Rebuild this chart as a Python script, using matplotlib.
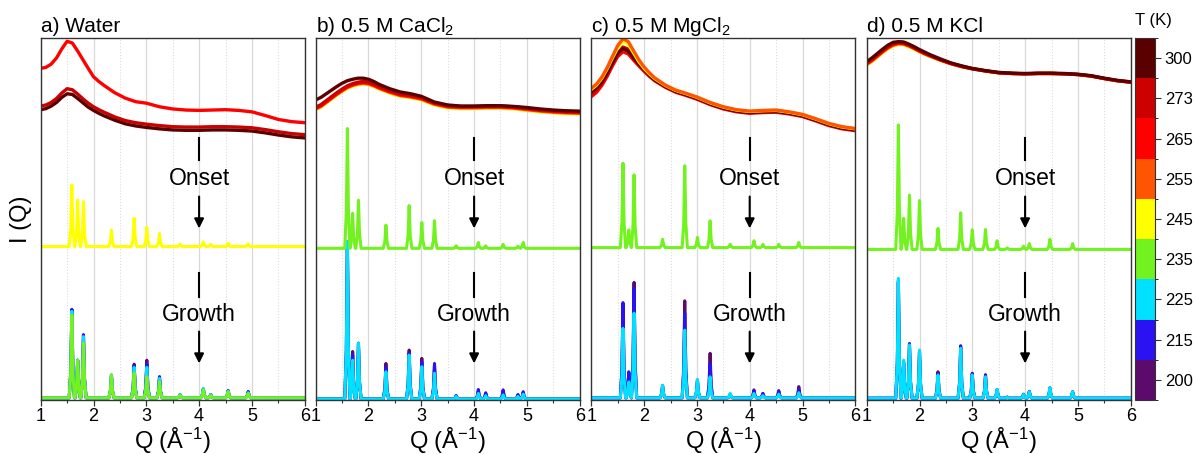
import numpy as np
import matplotlib
matplotlib.use("Agg")
from matplotlib import pyplot as plt
from matplotlib.colors import ListedColormap, BoundaryNorm
import matplotlib.colorbar as mcolorbar

plt.rcParams['font.family'] = ['Liberation Sans', 'DejaVu Sans']
plt.rcParams['mathtext.fontset'] = 'custom'
plt.rcParams['mathtext.rm'] = 'Liberation Sans'
plt.rcParams['mathtext.it'] = 'Liberation Sans:italic'

# temperature scale (colorbar)
T_LEVELS = [200, 215, 225, 235, 245, 255, 265, 273, 300]
T_COLORS = ['#5c0b6c', '#2a12f2', '#00e1ff', '#72f21e', '#ffff00',
            '#ff5500', '#ff0000', '#cc0000', '#5a0000']

TITLES = ['a) Water', 'b) 0.5 M CaCl$_2$', 'c) 0.5 M MgCl$_2$', 'd) 0.5 M KCl']

# liquid curves, Q grid and intensities (axis units 0-100)
Q_LIQ = [1.0, 1.1, 1.2, 1.3, 1.4, 1.5, 1.6, 1.7, 1.8, 1.9, 2.0, 2.1, 2.2, 2.4, 2.6, 2.8,
         3.0, 3.25, 3.5, 3.75, 4.0, 4.25, 4.5, 4.75, 5.0, 5.25, 5.5, 5.75, 6.0]

A_LIQ_265 = [91.6, 91.9, 92.8, 94.5, 97.0, 99.1, 98.6, 96.4, 94.0, 91.6, 89.3, 88.0, 86.9, 84.9, 83.4, 82.4,
             82.0, 81.0, 80.4, 80.1, 80.0, 80.1, 80.2, 80.0, 79.6, 78.6, 77.5, 76.9, 76.6]
A_LIQ_273 = [81.2, 81.5, 82.2, 83.3, 84.8, 86.0, 85.7, 84.5, 83.2, 82.0, 81.0, 80.2, 79.5, 78.2, 77.2, 76.6,
             76.2, 75.8, 75.5, 75.4, 75.4, 75.5, 75.5, 75.4, 75.2, 74.7, 74.1, 73.6, 73.3]
A_LIQ_300 = [80.2, 80.5, 81.2, 82.2, 83.6, 84.6, 84.4, 83.3, 82.1, 80.9, 80.0, 79.2, 78.5, 77.3, 76.3, 75.7,
             75.3, 74.9, 74.6, 74.5, 74.5, 74.6, 74.6, 74.5, 74.3, 73.8, 73.2, 72.7, 72.4]

B_LIQ_245 = [80.2, 80.9, 82.0, 83.1, 84.2, 85.2, 86.1, 86.7, 87.1, 87.3, 87.1, 86.6, 85.9, 84.8, 83.9, 83.5,
             82.9, 81.5, 80.7, 80.5, 80.5, 80.6, 80.6, 80.4, 80.0, 79.6, 79.3, 79.1, 79.0]
B_LIQ_255 = [80.4, 81.1, 82.2, 83.3, 84.4, 85.4, 86.3, 86.9, 87.3, 87.5, 87.3, 86.8, 86.1, 85.0, 84.1, 83.7,
             83.1, 81.7, 80.9, 80.7, 80.7, 80.8, 80.8, 80.6, 80.2, 79.8, 79.5, 79.3, 79.2]
B_LIQ_265 = [80.6, 81.3, 82.4, 83.5, 84.6, 85.6, 86.5, 87.1, 87.5, 87.7, 87.5, 87.0, 86.3, 85.2, 84.3, 83.9,
             83.3, 81.9, 81.1, 80.9, 80.9, 81.0, 81.0, 80.8, 80.4, 80.0, 79.7, 79.5, 79.4]
B_LIQ_273 = [80.9, 81.6, 82.7, 83.8, 84.9, 85.9, 86.8, 87.4, 87.8, 88.0, 87.8, 87.3, 86.6, 85.5, 84.6, 84.2,
             83.6, 82.1, 81.3, 81.1, 81.1, 81.2, 81.2, 81.0, 80.6, 80.2, 79.9, 79.7, 79.6]
B_LIQ_300 = [82.9, 83.6, 84.6, 85.6, 86.6, 87.5, 88.2, 88.6, 88.9, 88.9, 88.6, 88.0, 87.2, 86.0, 85.1, 84.6,
             83.9, 82.3, 81.5, 81.2, 81.2, 81.3, 81.3, 81.1, 80.8, 80.4, 80.1, 79.9, 79.8]

C_LIQ_245 = [85.8, 87.0, 88.9, 91.5, 94.5, 97.3, 99.0, 98.3, 95.9, 93.5, 91.6, 90.1, 88.8, 86.9, 85.5, 84.6,
             83.6, 82.1, 80.9, 80.1, 79.7, 79.9, 80.0, 79.5, 78.8, 77.6, 76.3, 75.4, 74.9]
C_LIQ_255 = [86.1, 87.3, 89.2, 91.8, 94.9, 97.9, 99.8, 99.0, 96.5, 94.0, 92.0, 90.4, 89.0, 87.0, 85.6, 84.7,
             83.7, 82.2, 81.0, 80.2, 79.8, 80.0, 80.1, 79.6, 78.9, 77.7, 76.4, 75.5, 75.0]
C_LIQ_265 = [83.8, 85.0, 86.9, 89.4, 92.3, 94.9, 96.2, 95.6, 93.9, 92.3, 90.8, 89.4, 88.2, 86.4, 85.0, 84.1,
             83.1, 81.6, 80.4, 79.6, 79.2, 79.4, 79.5, 79.0, 78.3, 77.1, 75.8, 74.9, 74.4]
C_LIQ_273 = [84.5, 85.7, 87.5, 90.0, 92.9, 95.7, 97.5, 96.9, 95.0, 93.2, 91.6, 90.1, 88.7, 86.8, 85.4, 84.5,
             83.5, 82.0, 80.8, 80.0, 79.6, 79.8, 79.9, 79.4, 78.7, 77.5, 76.2, 75.3, 74.8]
C_LIQ_300 = [85.2, 86.3, 88.0, 90.4, 93.2, 95.8, 97.1, 96.4, 94.5, 92.8, 91.2, 89.7, 88.4, 86.6, 85.2, 84.3,
             83.3, 81.8, 80.6, 79.8, 79.4, 79.6, 79.7, 79.2, 78.5, 77.3, 76.0, 75.1, 74.6]

D_LIQ_245 = [92.5, 93.5, 94.7, 95.9, 97.0, 97.8, 98.2, 98.1, 97.6, 96.9, 96.2, 95.5, 94.9, 93.8, 92.9, 92.1,
             91.5, 90.9, 90.4, 90.2, 90.1, 90.2, 90.2, 90.1, 89.9, 89.5, 88.8, 88.2, 87.8]
D_LIQ_255 = [92.7, 93.7, 94.9, 96.1, 97.2, 98.0, 98.4, 98.3, 97.8, 97.1, 96.3, 95.6, 95.0, 93.9, 92.9, 92.1,
             91.5, 90.9, 90.4, 90.2, 90.1, 90.2, 90.2, 90.1, 89.9, 89.5, 88.8, 88.2, 87.8]
D_LIQ_265 = [92.9, 93.9, 95.1, 96.3, 97.4, 98.2, 98.6, 98.5, 97.9, 97.2, 96.4, 95.7, 95.1, 93.9, 92.9, 92.1,
             91.5, 90.9, 90.4, 90.2, 90.1, 90.2, 90.2, 90.1, 89.9, 89.5, 88.8, 88.2, 87.8]
D_LIQ_273 = [93.2, 94.2, 95.4, 96.6, 97.7, 98.5, 98.8, 98.7, 98.1, 97.4, 96.6, 95.9, 95.2, 94.0, 93.0, 92.2,
             91.5, 90.9, 90.4, 90.2, 90.1, 90.2, 90.2, 90.1, 89.9, 89.5, 88.8, 88.2, 87.8]
D_LIQ_300 = [93.5, 94.5, 95.7, 96.9, 98.0, 98.8, 99.0, 98.9, 98.3, 97.6, 96.8, 96.1, 95.4, 94.2, 93.1, 92.3,
             91.6, 91.0, 90.5, 90.3, 90.2, 90.3, 90.3, 90.2, 90.0, 89.6, 88.9, 88.3, 87.9]

# Bragg peaks: positions, baselines, peak tops
A_PEAK_Q = [1.59, 1.70, 1.81, 2.34, 2.77, 3.01, 3.25, 3.64, 4.08, 4.22, 4.55, 4.93]
A_ONSET_BASE = 42.4
A_ONSET_245 = [59.4, 55.2, 54.8, 47.0, 50.2, 47.7, 46.0, 43.0, 43.7, 43.0, 43.3, 43.1]
A_GROWTH_BASE = 0.6
A_GROWTH_200 = [25.0, 11.0, 18.0, 6.5, 9.9, 11.0, 6.4, 1.4, 3.0, 1.5, 2.6, 2.3]
A_GROWTH_215 = [25.0, 11.0, 18.0, 6.9, 9.5, 10.0, 6.4, 1.5, 3.0, 1.5, 2.6, 2.3]
A_GROWTH_225 = [24.5, 11.0, 17.5, 6.9, 9.0, 9.0, 6.0, 1.5, 3.2, 1.5, 2.5, 2.0]
A_GROWTH_235 = [23.5, 11.0, 15.7, 6.9, 7.4, 6.4, 5.0, 1.3, 2.8, 1.3, 2.3, 1.8]

B_PEAK_Q = [1.60, 1.70, 1.81, 2.33, 2.77, 3.01, 3.25, 3.66, 4.08, 4.22, 4.55, 4.83, 4.93]
B_ONSET_BASE = 41.9
B_ONSET_235 = [75.0, 51.6, 55.2, 48.3, 53.7, 49.0, 49.5, 42.6, 43.5, 42.6, 43.0, 42.5, 43.5]
B_GROWTH_BASE = 0.3
B_GROWTH_200 = [43.5, 13.4, 15.5, 10.1, 13.8, 11.5, 9.5, 1.2, 2.5, 1.8, 2.5, 1.4, 2.0]
B_GROWTH_215 = [43.7, 12.5, 15.7, 9.0, 13.0, 10.5, 10.1, 1.2, 2.9, 2.0, 2.8, 1.5, 2.3]
B_GROWTH_225 = [43.7, 11.0, 15.7, 7.8, 12.4, 9.2, 7.4, 1.0, 1.8, 1.2, 1.4, 1.0, 1.6]

C_PEAK_Q = [1.60, 1.71, 1.81, 2.35, 2.77, 3.01, 3.25, 3.63, 4.08, 4.25, 4.55, 4.93]
C_ONSET_BASE = 42.1
C_ONSET_235 = [65.4, 47.0, 62.2, 44.4, 64.7, 44.9, 49.5, 43.0, 44.0, 43.0, 43.0, 43.5]
C_GROWTH_BASE = 0.6
C_GROWTH_200 = [26.0, 7.5, 32.5, 3.8, 27.4, 5.3, 12.9, 1.5, 2.8, 1.8, 2.6, 3.7]
C_GROWTH_215 = [26.9, 7.8, 30.8, 4.0, 24.0, 5.5, 10.0, 1.6, 2.5, 1.8, 2.4, 3.0]
C_GROWTH_225 = [19.8, 5.0, 24.0, 4.1, 19.3, 5.7, 6.4, 1.8, 1.8, 1.2, 1.6, 2.0]

D_PEAK_Q = [1.60, 1.70, 1.81, 2.00, 2.35, 2.78, 3.00, 3.25, 3.47, 3.66, 3.97, 4.08, 4.47, 4.90]
D_ONSET_BASE = 41.6
D_ONSET_235 = [76.0, 50.2, 56.6, 55.1, 47.4, 51.7, 47.0, 47.1, 44.0, 42.0, 42.5, 43.2, 44.4, 43.2]
D_GROWTH_BASE = 0.5
D_GROWTH_200 = [32.5, 10.0, 15.5, 13.2, 7.8, 14.5, 7.4, 7.0, 2.8, 0.8, 1.5, 2.3, 3.2, 2.2]
D_GROWTH_215 = [33.0, 10.5, 15.6, 13.5, 7.2, 15.0, 7.2, 6.8, 2.9, 0.8, 1.6, 2.4, 3.4, 2.3]
D_GROWTH_225 = [33.6, 11.0, 15.2, 13.8, 6.9, 14.3, 6.9, 6.4, 2.9, 0.8, 1.5, 2.3, 3.4, 2.3]

panels = [
    dict(liq=[(265, A_LIQ_265), (273, A_LIQ_273), (300, A_LIQ_300)],
         peaks=A_PEAK_Q,
         cryst=[(A_GROWTH_BASE, 200, A_GROWTH_200), (A_GROWTH_BASE, 215, A_GROWTH_215),
                (A_GROWTH_BASE, 225, A_GROWTH_225), (A_GROWTH_BASE, 235, A_GROWTH_235),
                (A_ONSET_BASE, 245, A_ONSET_245)]),
    dict(liq=[(245, B_LIQ_245), (255, B_LIQ_255), (265, B_LIQ_265), (273, B_LIQ_273), (300, B_LIQ_300)],
         peaks=B_PEAK_Q,
         cryst=[(B_GROWTH_BASE, 200, B_GROWTH_200), (B_GROWTH_BASE, 215, B_GROWTH_215),
                (B_GROWTH_BASE, 225, B_GROWTH_225), (B_ONSET_BASE, 235, B_ONSET_235)]),
    dict(liq=[(265, C_LIQ_265), (273, C_LIQ_273), (300, C_LIQ_300), (245, C_LIQ_245), (255, C_LIQ_255)],
         peaks=C_PEAK_Q,
         cryst=[(C_GROWTH_BASE, 200, C_GROWTH_200), (C_GROWTH_BASE, 215, C_GROWTH_215),
                (C_GROWTH_BASE, 225, C_GROWTH_225), (C_ONSET_BASE, 235, C_ONSET_235)]),
    dict(liq=[(245, D_LIQ_245), (255, D_LIQ_255), (265, D_LIQ_265), (273, D_LIQ_273), (300, D_LIQ_300)],
         peaks=D_PEAK_Q,
         cryst=[(D_GROWTH_BASE, 200, D_GROWTH_200), (D_GROWTH_BASE, 215, D_GROWTH_215),
                (D_GROWTH_BASE, 225, D_GROWTH_225), (D_ONSET_BASE, 235, D_ONSET_235)]),
]

color_of = dict(zip(T_LEVELS, T_COLORS))


def peak_trace(qs, base, tops):
    # each peak drawn as a narrow spike with a slightly wider foot
    x, y = [1.0], [base]
    for q, h in zip(qs, tops):
        x += [q - 0.05, q - 0.02, q, q + 0.02, q + 0.05]
        y += [base, base + 0.3 * (h - base), h, base + 0.3 * (h - base), base]
    x.append(6.0)
    y.append(base)
    return x, y


W, H = 1195, 454
fig = plt.figure(figsize=(W / 100, H / 100), dpi=100)
lefts = [40.7, 315.7, 591.3, 866.7]
aw = 264
top, bottom = 38, 400

for i, p in enumerate(panels):
    ax = fig.add_axes([lefts[i] / W, (H - bottom) / H, aw / W, (bottom - top) / H])
    ax.set_xlim(1, 6)
    ax.set_ylim(0, 100)
    ax.set_xticks([1, 2, 3, 4, 5, 6])
    ax.set_xticks([1.5, 2.5, 3.5, 4.5, 5.5], minor=True)
    ax.set_yticks([])
    ax.grid(axis='x', which='major', color='#d8d8d8', lw=0.9)
    ax.grid(axis='x', which='minor', color='#dcdcdc', lw=0.8, ls=':')
    ax.set_axisbelow(True)
    ax.tick_params(axis='x', which='major', direction='out', length=4, width=0.9,
                   labelsize=13, pad=2, color='#333333')
    ax.tick_params(axis='x', which='minor', direction='out', length=2.5, width=0.8,
                   color='#333333')
    for s in ax.spines.values():
        s.set_color('#333333')
        s.set_linewidth(1.0)

    for base, t, tops in p['cryst']:
        x, y = peak_trace(p['peaks'], base, tops)
        ax.plot(x, y, color=color_of[t], lw=2.2, solid_joinstyle='round')
    for t, vals in p['liq']:
        ax.plot(Q_LIQ, vals, color=color_of[t], lw=2.4, solid_joinstyle='round')

    # onset / growth markers
    for label, y_bar, y_txt, y_arr in [('Onset', (72.3, 66.3), 61.2, (56.2, 47.4)),
                                       ('Growth', (35.0, 28.5), 23.5, (18.9, 10.1))]:
        ax.plot([4, 4], y_bar, color='black', lw=1.5)
        ax.text(4, y_txt, label, ha='center', va='center', fontsize=16.5)
        ax.annotate('', xy=(4, y_arr[1]), xytext=(4, y_arr[0]),
                    arrowprops=dict(arrowstyle='-|>', color='black', lw=1.5,
                                    mutation_scale=14, shrinkA=0, shrinkB=0))

    ax.set_title(TITLES[i], loc='left', fontsize=15, pad=4)
    ax.set_xlabel('Q (Å$^{-1}$)', fontsize=17, labelpad=0)
    if i == 0:
        ax.set_ylabel('I (Q)', fontsize=17, labelpad=6)

cax = fig.add_axes([1135 / W, (H - bottom) / H, 20 / W, (bottom - top) / H])
cmap = ListedColormap(T_COLORS)
norm = BoundaryNorm(np.arange(len(T_LEVELS) + 1), cmap.N)
cb = mcolorbar.ColorbarBase(cax, cmap=cmap, norm=norm, orientation='vertical')
cb.set_ticks(np.arange(len(T_LEVELS)) + 0.5)
cb.set_ticklabels([str(t) for t in T_LEVELS])
cb.outline.set_edgecolor('#333333')
cax.tick_params(labelsize=12, length=4, width=0.8, color='#333333', pad=3)
fig.text(1153 / W, 1 - 21 / H, 'T (K)', ha='center', va='center', fontsize=12)

fig.savefig('out.png', dpi=100)
